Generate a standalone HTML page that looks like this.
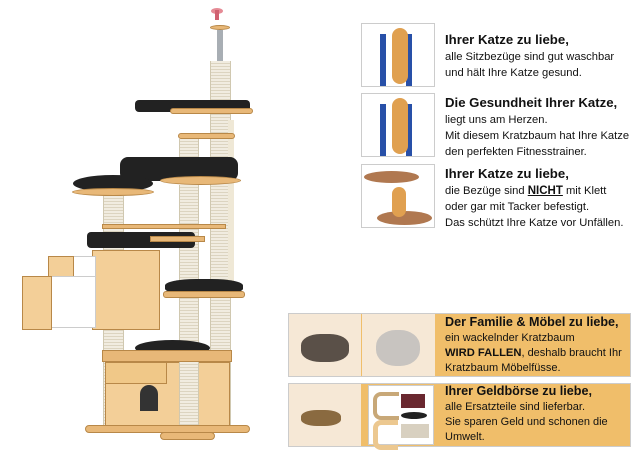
<!DOCTYPE html>
<html><head><meta charset="utf-8"><style>
body{margin:0;width:640px;height:455px;background:#fff;position:relative;overflow:hidden;font-family:"Liberation Sans",sans-serif;color:#111}
.a{position:absolute}
.img{position:absolute;border:1px solid #ccc;background:#fff;box-sizing:border-box}
.t{position:absolute;font-size:11.2px;line-height:16px;white-space:nowrap}
.t b{font-size:13.2px}
.t2{position:absolute;font-size:11px;line-height:15px;white-space:nowrap}
.t2 b{font-size:12.6px}
.post{position:absolute;background:repeating-linear-gradient(#f1ece0 0 2px,#dcd4c0 2px 3px);border-left:1px solid #d0c8b0;border-right:1px solid #d0c8b0}
.blk{position:absolute;background:#222;border-radius:40%}
.wd{position:absolute;background:#e8b878;border:1px solid #b88848;box-sizing:border-box}
</style></head><body>
<!-- cat tree -->
<div class="a" style="left:211px;top:8px;width:12px;height:6px;background:#e58a95;border-radius:50%"></div>
<div class="a" style="left:215px;top:10px;width:4px;height:10px;background:#d06070"></div>
<div class="wd" style="left:210px;top:25px;width:20px;height:5px;border-radius:50%"></div>
<div class="a" style="left:217px;top:30px;width:6px;height:32px;background:#a8aeb4"></div>
<div class="post" style="left:210px;top:61px;width:19px;height:370px"></div>
<div class="blk" style="left:135px;top:100px;width:115px;height:12px;border-radius:4px"></div>
<div class="wd" style="left:170px;top:108px;width:83px;height:6px;border-radius:3px"></div>
<div class="a" style="left:228px;top:120px;width:6px;height:170px;background:#efe8d6"></div>
<div class="wd" style="left:178px;top:133px;width:57px;height:6px;border-radius:3px"></div>
<div class="post" style="left:179px;top:139px;width:18px;height:30px"></div>
<div class="blk" style="left:120px;top:157px;width:118px;height:24px;border-radius:8px"></div>
<div class="wd" style="left:160px;top:176px;width:81px;height:9px;border-radius:50%"></div>
<div class="blk" style="left:73px;top:175px;width:80px;height:17px;border-radius:50%"></div>
<div class="wd" style="left:72px;top:188px;width:82px;height:8px;border-radius:50%"></div>
<div class="post" style="left:179px;top:185px;width:18px;height:250px"></div>
<div class="post" style="left:103px;top:196px;width:19px;height:234px"></div>
<div class="wd" style="left:102px;top:224px;width:124px;height:5px"></div>
<div class="blk" style="left:87px;top:232px;width:108px;height:16px;border-radius:4px"></div>
<div class="wd" style="left:150px;top:236px;width:55px;height:6px"></div>
<div class="wd" style="left:92px;top:250px;width:68px;height:80px;background:#f3cf98"></div>
<div class="a" style="left:48px;top:256px;width:46px;height:30px;background:#fff;border:1px solid #ccc"></div>
<div class="wd" style="left:48px;top:256px;width:26px;height:28px;background:#f3cf98"></div>
<div class="a" style="left:22px;top:276px;width:72px;height:50px;background:#fff;border:1px solid #ccc"></div>
<div class="wd" style="left:22px;top:276px;width:30px;height:54px;background:#f3cf98"></div>
<div class="blk" style="left:165px;top:279px;width:78px;height:16px;border-radius:40%"></div>
<div class="wd" style="left:163px;top:291px;width:82px;height:7px;border-radius:3px"></div>
<div class="blk" style="left:135px;top:340px;width:75px;height:16px;border-radius:50%"></div>
<div class="wd" style="left:102px;top:350px;width:130px;height:12px"></div>
<div class="wd" style="left:105px;top:362px;width:125px;height:68px;background:#f3cf98"></div>
<div class="wd" style="left:105px;top:362px;width:62px;height:22px;background:#f0c888"></div>
<div class="post" style="left:179px;top:362px;width:18px;height:75px"></div>
<div class="a" style="left:140px;top:385px;width:18px;height:26px;background:#333;border-radius:9px 9px 0 0"></div>
<div class="wd" style="left:85px;top:425px;width:165px;height:8px;border-radius:4px"></div>
<div class="wd" style="left:160px;top:432px;width:55px;height:8px;border-radius:4px"></div>
<!-- right panels -->
<div class="img" style="left:361px;top:23px;width:74px;height:64px"><div class="a" style="left:18px;top:10px;width:20px;height:52px;border-left:6px solid #2850a8;border-right:6px solid #2850a8"></div><div class="a" style="left:30px;top:4px;width:16px;height:56px;background:#e0a050;border-radius:8px"></div></div>
<div class="t" style="left:445px;top:32px"><b>Ihrer Katze zu liebe,</b><br>alle Sitzbezüge sind gut waschbar<br>und hält Ihre Katze gesund.</div>
<div class="img" style="left:361px;top:93px;width:74px;height:64px"><div class="a" style="left:18px;top:10px;width:20px;height:52px;border-left:6px solid #2850a8;border-right:6px solid #2850a8"></div><div class="a" style="left:30px;top:4px;width:16px;height:56px;background:#e0a050;border-radius:8px"></div></div>
<div class="t" style="left:445px;top:95px"><b>Die Gesundheit Ihrer Katze,</b><br>liegt uns am Herzen.<br>Mit diesem Kratzbaum hat Ihre Katze<br>den perfekten Fitnesstrainer.</div>
<div class="img" style="left:361px;top:164px;width:74px;height:64px"><div class="a" style="left:2px;top:6px;width:55px;height:12px;background:#b07850;border-radius:50%"></div><div class="a" style="left:15px;top:46px;width:55px;height:14px;background:#b07850;border-radius:50%"></div><div class="a" style="left:30px;top:22px;width:14px;height:30px;background:#e0a050;border-radius:7px"></div></div>
<div class="t" style="left:445px;top:166px"><b>Ihrer Katze zu liebe,</b><br>die Bezüge sind <b style="font-size:11.5px;text-decoration:underline">NICHT</b> mit Klett<br>oder gar mit Tacker befestigt.<br>Das schützt Ihre Katze vor Unfällen.</div>
<div class="a" style="left:288px;top:313px;width:343px;height:64px;border:1px solid #ccc;box-sizing:border-box;background:#f0be6a"></div>
<div class="a" style="left:289px;top:314px;width:72px;height:62px;background:#f6e8d6"><div class="a" style="left:12px;top:20px;width:48px;height:28px;background:#5a5048;border-radius:40%"></div></div>
<div class="a" style="left:362px;top:314px;width:73px;height:62px;background:#f6e8d6"><div class="a" style="left:14px;top:16px;width:44px;height:36px;background:#c8c4c0;border-radius:45%"></div></div>
<div class="t2" style="left:445px;top:315px"><b>Der Familie &amp; Möbel zu liebe,</b><br>ein wackelnder Kratzbaum<br><b style="font-size:11.2px">WIRD FALLEN</b>, deshalb braucht Ihr<br>Kratzbaum Möbelfüsse.</div>
<div class="a" style="left:288px;top:383px;width:343px;height:64px;border:1px solid #ccc;box-sizing:border-box;background:#f0be6a"></div>
<div class="a" style="left:289px;top:384px;width:72px;height:62px;background:#f6e8d6"><div class="a" style="left:12px;top:26px;width:40px;height:16px;background:#8a6a40;border-radius:40%"></div></div>
<div class="a" style="left:368px;top:385px;width:64px;height:58px;background:#fff;border:1px solid #ccc"><div class="a" style="left:4px;top:6px;width:22px;height:20px;border:4px solid #c8a878;border-right:none;border-radius:8px 0 0 8px"></div><div class="a" style="left:32px;top:8px;width:24px;height:14px;background:#6a2830"></div><div class="a" style="left:4px;top:34px;width:20px;height:20px;border:5px solid #ecc890;border-right:none;border-radius:8px 0 0 8px"></div><div class="a" style="left:32px;top:26px;width:26px;height:7px;background:#222;border-radius:50%"></div><div class="a" style="left:32px;top:38px;width:28px;height:14px;background:#d8d0c0"></div></div>
<div class="t2" style="left:445px;top:384px"><b>Ihrer Geldbörse zu liebe,</b><br>alle Ersatzteile sind lieferbar.<br>Sie sparen Geld und schonen die<br>Umwelt.</div>
</body></html>
